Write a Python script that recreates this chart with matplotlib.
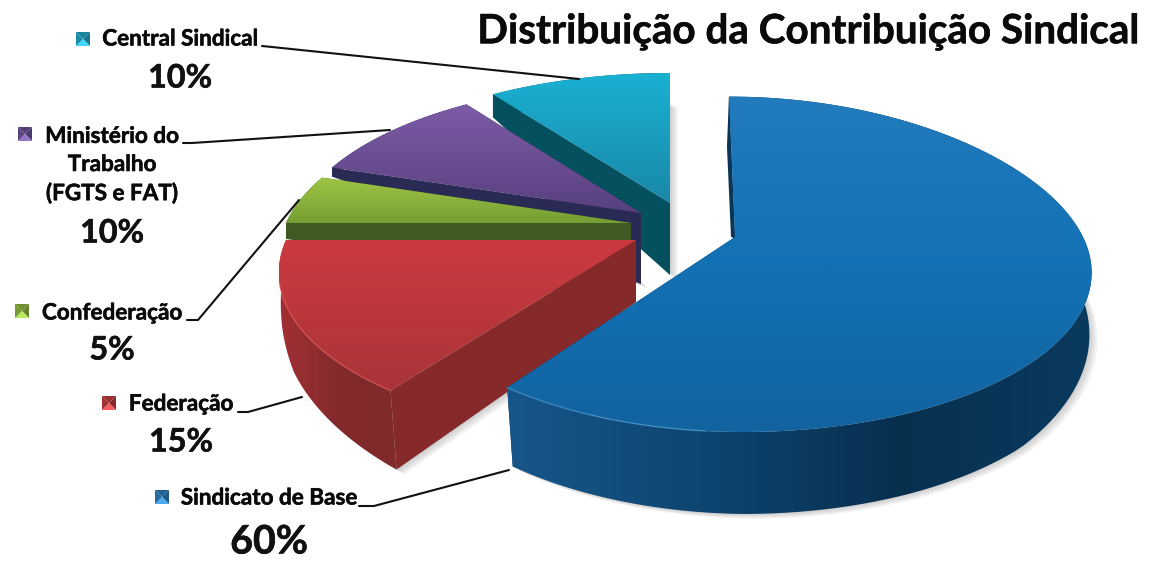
import numpy as np
import matplotlib
matplotlib.use('Agg')
import matplotlib.pyplot as plt
import matplotlib.patheffects as pe
from matplotlib.colors import LinearSegmentedColormap
from matplotlib.patches import Polygon

plt.rcParams['font.family'] = ['Lato', 'DejaVu Sans']

# data, clockwise from 12 o'clock
categories = ['Sindicato de Base', 'Federação', 'Confederação', 'Ministério do\nTrabalho\n(FGTS e FAT)', 'Central Sindical']
shares = [60, 15, 5, 10, 10]
percent_labels = ['60%', '15%', '5%', '10%', '10%']
title = 'Distribuição da Contribuição Sindical'

# look of the fake 3d pie (all in image pixels)
SQUASH = 156
PERSPECTIVE = 0.2
radii = [348, 350, 345, 345, 350]
apexes = [(735, 237), (636, 240), (631, 223), (641, 213), (670, 203)]
apex_depths = [70, 62, 62, 71, 72]
leans = [0.043, 0, 0, 0, 0]
far_stretch = [0.08, 0, 0, 0, 0]
left_scale = [0.96, 1, 1, 1, 1]
depth_angles = [0, 90, 135, 180, 216, 245, 255, 270, 288, 324, 360]
depth_values = [30, 62, 82, 82, 79, 60, 45, 16, 9, 23, 30]

top_colors = [['#227bbc', '#1271b4', '#12639f'], ['#cc3a40', '#a83438'], ['#9fc544', '#759e34'],
              ['#7d5ca6', '#58407f'], ['#19b1d3', '#1a88a8']]
wall_colors = [['#17568b', '#0e4570', '#07304f', '#0a3a5e'], ['#a23035', '#832a2c', '#7f2a2b'],
               ['#3f5b23', '#3f5b23'], ['#2a2b55', '#2a2b55'], ['#05505f', '#05505f']]
inner_colors = ['#0b3556', '#86292b', '#3f5b23', '#2a2b55', '#05505f']
rim_colors = ['#4f9fd6', '#e0555a', None, None, None]
rim_ranges = [(185, 216), (216, 255), None, None, None]
bullet_colors = ['#2a7cba', '#c0393d', '#8db53c', '#6a4f96', '#1fa6c4']

label_pos = [(269, 498), (181, 404), (112, 313), (112, 165), (180, 39)]
percent_pos = [(269, 542), (181, 442), (112, 350), (112, 233), (180, 78)]
bullet_pos = [(162, 497), (109, 403), (22, 311), (25, 134), (83, 39)]
label_sizes = [16.2, 16.2, 16.2, 16.2, 16.2]
percent_sizes = [28.3, 23.3, 23.3, 23.3, 23.3]
leaders = [[(359, 506), (374, 506), (509, 470)],
           [(238, 412), (248, 412), (302, 397)],
           [(187, 320), (198, 320), (299, 200)],
           [(183, 143), (192, 143), (390, 130)],
           [(262, 46), (272, 47), (579, 79)]]


def rim(theta, i):
    """Project clock angles (degrees) on the rim of slice i"""
    t = np.radians(theta)
    u, v = np.sin(t), np.cos(t)
    s = 1 / (1 + PERSPECTIVE * v)
    up = SQUASH * v * s * (1 + far_stretch[i] * np.clip(v, 0, 1))
    across = radii[i] * u * s * np.where(u < 0, left_scale[i], 1)
    return apexes[i][0] + across - leans[i] * up, apexes[i][1] - up


def drop(x, y, theta, apex):
    """Same rim points on the bottom of the slab"""
    v = np.cos(np.radians(theta))
    shrink = 1 - 0.03 * np.clip(-v, 0, 1)
    return apex[0] + (x - apex[0]) * shrink, y + np.interp(theta, depth_angles, depth_values)


def gradient_fill(ax, xs, ys, colors, horizontal=False, zorder=1):
    cmap = LinearSegmentedColormap.from_list('g', colors)
    ramp = np.linspace(0, 1, 256)
    ramp = ramp[None, :] if horizontal else ramp[:, None]
    extent = (np.min(xs), np.max(xs), np.max(ys), np.min(ys))
    im = ax.imshow(ramp, cmap=cmap, extent=extent, aspect='auto', origin='upper',
                   interpolation='bilinear', zorder=zorder)
    im.set_clip_path(Polygon(np.column_stack([xs, ys]), transform=ax.transData))


def draw_bullet(ax, cx, cy, color, zorder):
    h = 7
    corners = [(cx - h, cy - h), (cx + h, cy - h), (cx + h, cy + h), (cx - h, cy + h)]
    shades = [0.8, 0.72, 1.15, 0.85]
    base = np.array(matplotlib.colors.to_rgb(color))
    for i, shade in enumerate(shades):
        ax.add_patch(Polygon([corners[i], corners[(i + 1) % 4], (cx, cy)], lw=0,
                             fc=np.clip(base * shade + (0.1 if shade > 1 else 0), 0, 1), zorder=zorder))


fig = plt.figure(figsize=(11.56, 5.78), dpi=100)
ax = fig.add_axes([0, 0, 1, 1])

# slice angles come from the shares
edges = np.concatenate([[0], np.cumsum(shares)]) / np.sum(shares) * 360

# soft shadows go first so they only fall on the paper
for i in range(len(shares)):
    theta = np.linspace(edges[i], edges[i + 1], 120)
    x, y = rim(theta, i)
    bx, by = drop(x, y, theta, apexes[i])
    ox = np.concatenate([bx, [apexes[i][0]]])
    oy = np.concatenate([by, [apexes[i][1] + apex_depths[i]]])
    for off in (2, 4, 6, 8):
        ax.add_patch(Polygon(np.column_stack([ox + off, oy + off * 0.6]), fc='#555555', alpha=0.07, lw=0, zorder=1))

# far slices first, the big blue one ends up on top
order = [4, 3, 2, 1, 0]
z = 2
for i in order:
    ap = apexes[i]
    theta = np.linspace(edges[i], edges[i + 1], 120)
    x, y = rim(theta, i)
    bx, by = drop(x, y, theta, ap)
    ax_bottom = (ap[0], ap[1] + apex_depths[i])

    # walls on both cut edges
    for j in (0, -1):
        ax.add_patch(Polygon([(x[j], y[j]), ap, ax_bottom, (bx[j], by[j])], fc=inner_colors[i], lw=0, zorder=z))
    z += 1

    # outer wall
    wx = np.concatenate([x, bx[::-1]])
    wy = np.concatenate([y, by[::-1]])
    gradient_fill(ax, wx, wy, wall_colors[i], horizontal=True, zorder=z)
    z += 1

    # thin dark sliver on the left side of the blue slice
    if i == 0:
        ax.add_patch(Polygon([(x[0], y[0]), ap, (ap[0] - 4, ap[1]), (x[0] - 2, y[0] + 50)],
                             fc=inner_colors[i], lw=0, zorder=z))

    # top face
    tx = np.concatenate([[ap[0]], x])
    ty = np.concatenate([[ap[1]], y])
    gradient_fill(ax, tx, ty, top_colors[i], zorder=z)
    z += 1

    if rim_colors[i]:
        keep = (theta >= rim_ranges[i][0]) & (theta <= rim_ranges[i][1])
        ax.plot(x[keep], y[keep], color=rim_colors[i], lw=1, alpha=0.65, zorder=z)
        z += 1

heavy = [pe.withStroke(linewidth=0.4, foreground='#0a0a0a')]

# labels
for i, name in enumerate(categories):
    lx, ly = label_pos[i]
    ax.text(lx, ly, name, ha='center', va='center', fontsize=label_sizes[i], fontweight='bold',
            color='#0a0a0a', linespacing=1.42, zorder=50, path_effects=heavy)
    px, py = percent_pos[i]
    ax.text(px, py, percent_labels[i], ha='center', va='center', fontsize=percent_sizes[i],
            fontweight='bold', color='#111111', zorder=50, path_effects=heavy)
    draw_bullet(ax, bullet_pos[i][0], bullet_pos[i][1], bullet_colors[i], 50)
    pts = np.array(leaders[i])
    ax.plot(pts[:, 0], pts[:, 1], color='#111111', lw=1.5, zorder=40, solid_capstyle='round')

ax.text(808, 32, title, ha='center', va='center', fontsize=29.1, fontweight='bold', color='#0a0a0a',
        zorder=50, path_effects=heavy)

ax.set_xlim(0, 1156)
ax.set_ylim(578, 0)
ax.axis('off')
fig.savefig('out.png', dpi=100, facecolor='white')
